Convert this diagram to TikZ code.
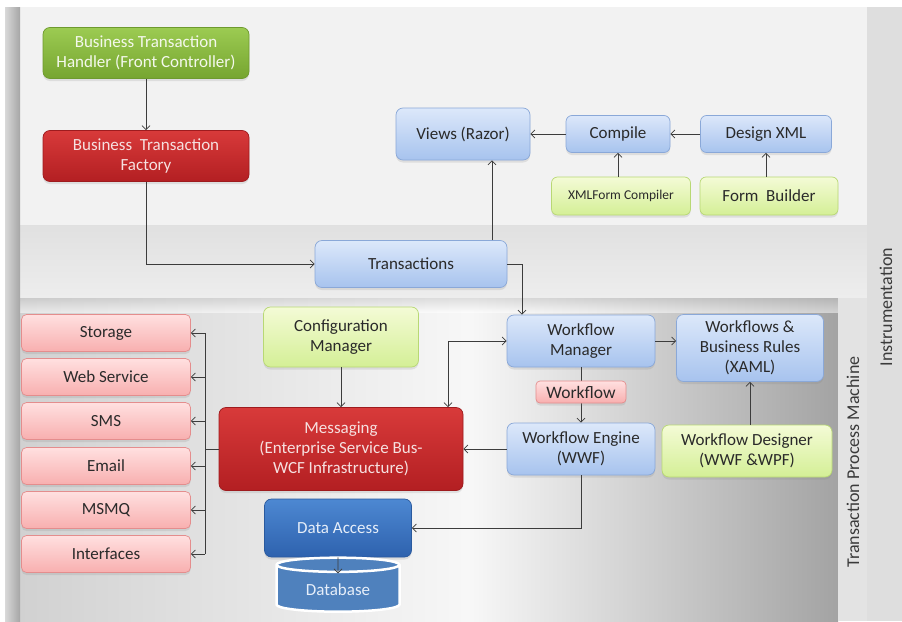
\documentclass[tikz,border=0pt]{standalone}
\usepackage{fontspec}
\setmainfont{Carlito}
\usetikzlibrary{arrows.meta,shapes.geometric,shadows}
\definecolor{lineC}{HTML}{3C3C3C}
\definecolor{txtD}{HTML}{2A2A2A}
\definecolor{blueT}{HTML}{DCE8FA}
\definecolor{blueB}{HTML}{A7C3EE}
\definecolor{blueBd}{HTML}{8AA8D8}
\definecolor{lgT}{HTML}{F4FBD6}
\definecolor{lgB}{HTML}{D4EF96}
\definecolor{lgBd}{HTML}{B8D874}
\definecolor{dgT}{HTML}{9CCB52}
\definecolor{dgB}{HTML}{76A530}
\definecolor{dgBd}{HTML}{6E9A2E}
\definecolor{dgTx}{HTML}{F4F8EC}
\definecolor{redT}{HTML}{D83A3A}
\definecolor{redB}{HTML}{B31F22}
\definecolor{redBd}{HTML}{9E1B1E}
\definecolor{redTx}{HTML}{F6E0E0}
\definecolor{pkT}{HTML}{FFE0E0}
\definecolor{pkB}{HTML}{F8AFAF}
\definecolor{pkBd}{HTML}{E48D8D}
\definecolor{dbT}{HTML}{4D88D2}
\definecolor{dbB}{HTML}{2E62AE}
\definecolor{dbBd}{HTML}{2A5A9E}
\definecolor{dbTx}{HTML}{E6EEF9}
\definecolor{dbF}{HTML}{4F81BD}
\definecolor{labC}{HTML}{3A3A3A}
\begin{document}
\begin{tikzpicture}[x=1pt,y=-1pt,
  base/.style={rounded corners=7pt, line width=0.7pt, align=center,
    font=\fontsize{17}{20}\selectfont, inner sep=2pt,
    drop shadow={shadow xshift=0pt, shadow yshift=-2.5pt, opacity=0.18}},
  sz/.style 2 args={minimum width=#1, minimum height=#2},
  bluebox/.style={base, draw=blueBd, top color=blueT, bottom color=blueB, text=txtD},
  lgbox/.style={base, draw=lgBd, top color=lgT, bottom color=lgB, text=txtD},
  dgbox/.style={base, draw=dgBd, top color=dgT, bottom color=dgB, text=dgTx},
  redbox/.style={base, draw=redBd, top color=redT, bottom color=redB, text=redTx},
  pinkbox/.style={base, rounded corners=5pt, draw=pkBd, top color=pkT, bottom color=pkB, text=txtD},
  dbluebox/.style={base, draw=dbBd, top color=dbT, bottom color=dbB, text=dbTx},
  arr/.style={draw=lineC, line width=0.75pt, -{Straight Barb[length=4pt,width=8pt]}},
  ln/.style={draw=lineC, line width=0.75pt},
  vlab/.style={rotate=90, font=\fontsize{18}{20}\selectfont, text=labC}
]
\useasboundingbox (0,0) rectangle (902,621);
% backgrounds
\fill[white] (0,0) rectangle (902,621);
\fill[black!5] (20,7) rectangle (867,225);
\shade[top color=black!12, bottom color=black!7] (20,225) rectangle (867,298);
\shade[left color=black!18, right color=black!3] (20,298) rectangle (470,621);
\shade[left color=black!3, right color=black!36] (470,298) rectangle (838,621);
\shade[top color=black!22, bottom color=black!0, opacity=0.5] (20,298) rectangle (838,312);
\fill[black!11] (838,298) rectangle (867,621);
\fill[black!13] (867,7) rectangle (902,621);
\shade[left color=black!15, right color=black!35] (5,7) rectangle (20,621);
% vertical labels
\node[vlab] (tpm) at (853,462) {Transaction Process Machine};
\node[vlab] (instr) at (886,307) {Instrumentation};
% top nodes
\node[dgbox, sz={206}{51}] (handler) at (146,53) {Business Transaction\\Handler (Front Controller)};
\node[redbox, sz={206}{51}] (factory) at (146,156) {Business\ \ Transaction\\Factory};
\node[bluebox, sz={134}{52}] (views) at (463,134) {Views (Razor)};
\node[bluebox, sz={104}{37}, rounded corners=6pt] (compile) at (618,134) {Compile};
\node[bluebox, sz={131}{37}, rounded corners=6pt] (design) at (766,134) {Design XML};
\node[lgbox, sz={139}{38}, rounded corners=6pt, font=\fontsize{13.5}{16}\selectfont] (xmlform) at (621,196) {XMLForm Compiler};
\node[lgbox, sz={138}{38}, rounded corners=6pt] (formb) at (769,196) {Form\ \ Builder};
\node[bluebox, sz={192}{47}] (trans) at (411,264) {Transactions};
% left boxes
\foreach \n/\t/\y in {storage/Storage/333, websvc/Web Service/377, sms/SMS/421, email/Email/466, msmq/MSMQ/510, interf/Interfaces/554}
  \node[pinkbox, sz={169}{37}] (\n) at (106,\y) {\t};
% middle
\node[lgbox, sz={155}{60}] (cfg) at (341,337) {Configuration\\Manager};
\node[redbox, sz={244}{83}] (msg) at (341,449) {Messaging\\(Enterprise Service Bus-\\WCF Infrastructure)};
\node[dbluebox, sz={147}{58}] (da) at (338,528) {Data Access};
\node[cylinder, shape border rotate=90, aspect=0.2, draw=white, line width=2.5pt, fill=dbF,
  minimum width=123, minimum height=54, text=dbTx, font=\fontsize{17}{20}\selectfont] (db) at (338,590) {Database};
% right
\node[bluebox, sz={148}{52}] (wfm) at (581,341) {Workflow\\Manager};
\node[bluebox, sz={147}{67}] (wfr) at (750,348) {Workflows \&\\Business Rules\\(XAML)};
\node[bluebox, sz={148}{52}] (wfe) at (581,449) {Workflow Engine\\(WWF)};
\node[lgbox, sz={170}{52}] (wfd) at (747,451) {Workflow Designer\\(WWF \&WPF)};
% coordinates
\coordinate (vx) at (492,0);
\coordinate (tx) at (522,0);
\coordinate (mx) at (448,0);
\coordinate (bus) at (205,449);
% connectors
\draw[arr] (handler) -- (factory);
\draw[arr] (factory.south) |- (trans.west);
\draw[arr] (vx |- trans.north) -- (vx |- views.south);
\draw[arr] (compile) -- (views);
\draw[arr] (design) -- (compile);
\draw[arr] (compile.south |- xmlform.north) -- (compile.south);
\draw[arr] (design.south |- formb.north) -- (design.south);
\draw[arr] (trans.east) -| (tx |- wfm.north);
\draw[arr] (wfm) -- (wfr.west |- wfm.east);
\draw[arr] (wfm) -- (wfe);
\draw[arr] (wfr.south |- wfd.north) -- (wfr.south);
\draw[arr] (wfe) -- (msg);
\draw[arr, {Straight Barb[length=4pt,width=8pt]}-{Straight Barb[length=4pt,width=8pt]}] (mx |- msg.north) |- (wfm.west);
\draw[arr] (cfg) -- (msg);
\draw[arr] (wfe.south) |- (da.east);
\draw[arr] (da.south) -- ([yshift=-17pt]db.north);
\draw[ln] (msg.west) -- (bus);
\draw[ln] (storage.east -| bus) -- (interf.east -| bus);
\foreach \n in {storage,websvc,sms,email,msmq,interf}
  \draw[arr] (\n.east -| bus) -- (\n.east);
% label on the workflow connector
\node[pinkbox, sz={90}{22}, rounded corners=4pt, font=\fontsize{17.5}{18}\selectfont, inner sep=1pt] (wflab) at (581,392) {Workflow};
\end{tikzpicture}
\end{document}
